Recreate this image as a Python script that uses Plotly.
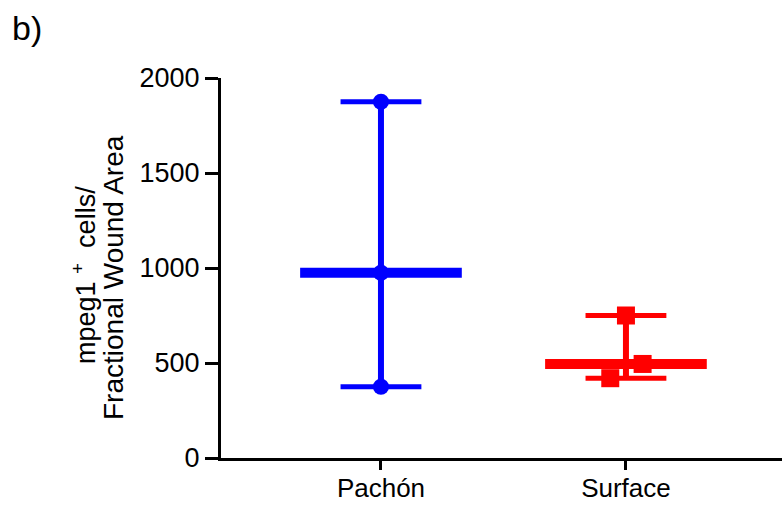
import plotly.graph_objects as go
import numpy as np

# Group names and per-fish measurements (mpeg1+ cells per fractional wound area)
groups = ["Pachón", "Surface"]
pachon_values = [1875, 975, 375]
surface_values = [750, 495, 420]
y_tick_values = [0, 500, 1000, 1500, 2000]

colors = ["#0000FF", "#FF0000"]
symbols = ["circle", "square"]
marker_sizes = [16, 18]
# horizontal scatter offsets for the individual points of each group
point_offsets = [[0, 0, 0], [0, 0.068, -0.064]]

fig = go.Figure()

for i, (vals, col, sym) in enumerate(zip([pachon_values, surface_values], colors, symbols)):
    lo, hi, med = min(vals), max(vals), float(np.median(vals))
    cap = 0.165
    half = 0.33
    # range line
    fig.add_trace(go.Scatter(x=[i, i], y=[lo, hi], mode="lines",
                             line=dict(color=col, width=6), showlegend=False, hoverinfo="skip"))
    # range caps
    for v in (lo, hi):
        fig.add_trace(go.Scatter(x=[i - cap, i + cap], y=[v, v], mode="lines",
                                 line=dict(color=col, width=5), showlegend=False, hoverinfo="skip"))
    # median bar
    fig.add_trace(go.Scatter(x=[i - half, i + half], y=[med, med], mode="lines",
                             line=dict(color=col, width=10), showlegend=False, hoverinfo="skip"))
    # individual points
    fig.add_trace(go.Scatter(x=[i + o for o in point_offsets[i]], y=vals, mode="markers",
                             marker=dict(color=col, symbol=sym, size=marker_sizes[i], line=dict(width=0)),
                             showlegend=False, name=groups[i]))

font_family = "Liberation Sans, Arial, sans-serif"
plot_w = 782 - 221
plot_h = 458 - 78


def px_x(px):
    return (px - 221) / plot_w


def px_y(py):
    return (458 - py) / plot_h


fig.update_layout(
    width=782, height=505,
    margin=dict(l=221, r=0, t=78, b=47),
    paper_bgcolor="white", plot_bgcolor="white",
    font=dict(family=font_family, color="black", size=27),
    xaxis=dict(range=[-0.653, 1.637], tickmode="array", tickvals=[0, 1], ticktext=groups,
               showgrid=False, zeroline=False, showline=True, linecolor="black", linewidth=3,
               ticks="outside", ticklen=9, tickwidth=3, tickcolor="black", automargin=False,
               ticklabelstandoff=-4,
               tickfont=dict(size=26, family=font_family, color="black")),
    yaxis=dict(range=[0, 2000], tickmode="array", tickvals=y_tick_values,
               showgrid=False, zeroline=False, showline=True, linecolor="black", linewidth=3,
               ticks="outside", ticklen=13, tickwidth=3, tickcolor="black", automargin=False,
               tickfont=dict(size=27, family=font_family, color="black")),
    annotations=[
        dict(text="mpeg1 <sup>+</sup>&nbsp;&nbsp;cells/", textangle=-90,
             xref="paper", yref="paper", x=px_x(84), y=px_y(275),
             xanchor="center", yanchor="middle", showarrow=False,
             font=dict(size=27, family=font_family, color="black")),
        dict(text="Fractional Wound Area", textangle=-90,
             xref="paper", yref="paper", x=px_x(113), y=px_y(278),
             xanchor="center", yanchor="middle", showarrow=False,
             font=dict(size=28, family=font_family, color="black")),
        dict(text="b)", xref="paper", yref="paper", x=px_x(10), y=px_y(28),
             xanchor="left", yanchor="middle", showarrow=False,
             font=dict(size=34, family=font_family, color="black")),
    ],
)

fig.write_html("out.html")
